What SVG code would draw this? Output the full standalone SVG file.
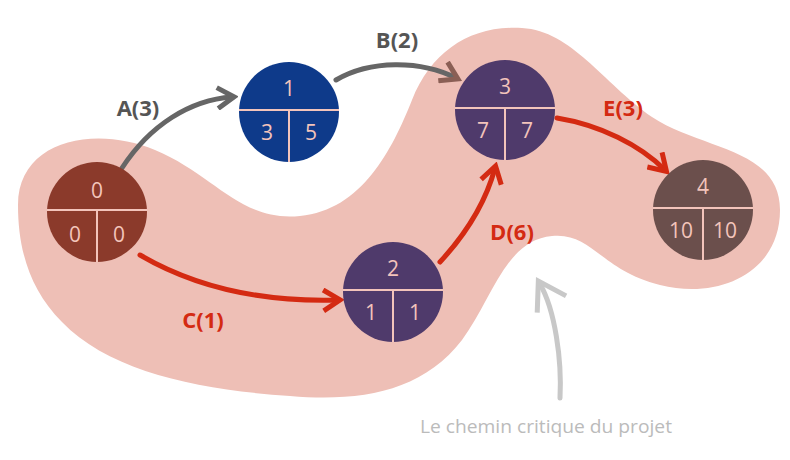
<svg xmlns="http://www.w3.org/2000/svg" width="790" height="460" viewBox="0 0 790 460">
<defs>
<marker id="hr" viewBox="0 0 12 12" refX="9" refY="6" markerWidth="5" markerHeight="5" orient="auto" markerUnits="strokeWidth"><path d="M2,1 L10,6 L2,11" fill="none" stroke="#d42a12" stroke-width="2.4"/></marker>
<marker id="hg" viewBox="0 0 12 12" refX="9" refY="6" markerWidth="5" markerHeight="5" orient="auto" markerUnits="strokeWidth"><path d="M2,1 L10,6 L2,11" fill="none" stroke="#666" stroke-width="2.4"/></marker>
<marker id="hb" viewBox="0 0 12 12" refX="9" refY="6" markerWidth="5" markerHeight="5" orient="auto" markerUnits="strokeWidth"><path d="M2,1 L10,6 L2,11" fill="none" stroke="#8a5f55" stroke-width="2.4"/></marker>
<marker id="hl" viewBox="0 0 12 12" refX="9" refY="6" markerWidth="8" markerHeight="8" orient="auto" markerUnits="strokeWidth"><path d="M2,1 L10,6 L2,11" fill="none" stroke="#c8c8c8" stroke-width="1.5"/></marker>
</defs>
<style>
.n text{font-family:"Open Sans","Liberation Sans",sans-serif;font-size:21px;fill:#f3c4bb;text-anchor:middle}
.n line{stroke:#f3c4bb;stroke-width:2}
.lb{font-family:"Open Sans","Liberation Sans",sans-serif;font-weight:bold;font-size:22px;text-anchor:middle}
.c path{fill:none;stroke-width:5;stroke-linecap:round}
</style>
<rect width="790" height="460" fill="#fff"/>
<path d="M18,205 C18,140 95,125 155,150 C215,175 240,222 300,216 C362,210 392,150 412,100 C432,50 472,25 522,28 C572,31 602,82 652,117 C702,150 780,148 780,210 C780,272 720,300 660,285 C600,270 592,232 552,236 C505,240 492,300 462,340 C422,392 360,402 290,396 C200,390 110,372 62,322 C30,290 18,250 18,205 Z" fill="#eebfb6"/>
<g class="c">
<path d="M122,168 C150,125 190,100 232,97" stroke="#666" marker-end="url(#hg)"/>
<path d="M336,80 C370,60 420,60 456,78" stroke="#666" marker-end="url(#hb)"/>
<path d="M140,255 C200,290 270,302 338,300" stroke="#d42a12" marker-end="url(#hr)"/>
<path d="M440,262 C465,235 485,205 495,168" stroke="#d42a12" marker-end="url(#hr)"/>
<path d="M557,118 C600,125 640,145 665,170" stroke="#d42a12" marker-end="url(#hr)"/>
<path d="M560,398 C562,360 555,310 540,284" stroke="#c8c8c8" stroke-width="2" marker-end="url(#hl)"/>
</g>
<text class="lb" x="138" y="116" fill="#555">A(3)</text>
<text class="lb" x="397" y="48" fill="#555">B(2)</text>
<text class="lb" x="203" y="328" fill="#d42a12">C(1)</text>
<text class="lb" x="512" y="240" fill="#d42a12">D(6)</text>
<text class="lb" x="623" y="116" fill="#d42a12">E(3)</text>
<g id="n0" class="n"><circle cx="97" cy="212" r="50" fill="#8b3a2b"/><line x1="47" y1="210" x2="147" y2="210"/><line x1="97" y1="210" x2="97" y2="262"/><text x="97" y="198">0</text><text x="75" y="242">0</text><text x="119" y="242">0</text></g>
<g id="n1" class="n"><circle cx="289" cy="112" r="50" fill="#0e3a8a"/><line x1="239" y1="110" x2="339" y2="110"/><line x1="289" y1="110" x2="289" y2="162"/><text x="289" y="96">1</text><text x="267" y="140">3</text><text x="311" y="140">5</text></g>
<g id="n2" class="n"><circle cx="393" cy="292" r="50" fill="#4f3a6b"/><line x1="343" y1="290" x2="443" y2="290"/><line x1="393" y1="290" x2="393" y2="342"/><text x="393" y="276">2</text><text x="371" y="320">1</text><text x="415" y="320">1</text></g>
<g id="n3" class="n"><circle cx="505" cy="110" r="50" fill="#4f3a6b"/><line x1="455" y1="108" x2="555" y2="108"/><line x1="505" y1="108" x2="505" y2="160"/><text x="505" y="94">3</text><text x="483" y="138">7</text><text x="527" y="138">7</text></g>
<g id="n4" class="n"><circle cx="703" cy="210" r="50" fill="#6b4f4c"/><line x1="653" y1="208" x2="753" y2="208"/><line x1="703" y1="208" x2="703" y2="260"/><text x="703" y="194">4</text><text x="681" y="238">10</text><text x="725" y="238">10</text></g>
<text x="420" y="433" font-family="'Open Sans','Liberation Sans',sans-serif" font-size="18" fill="#bbb" textLength="252" lengthAdjust="spacingAndGlyphs">Le chemin critique du projet</text>
</svg>
